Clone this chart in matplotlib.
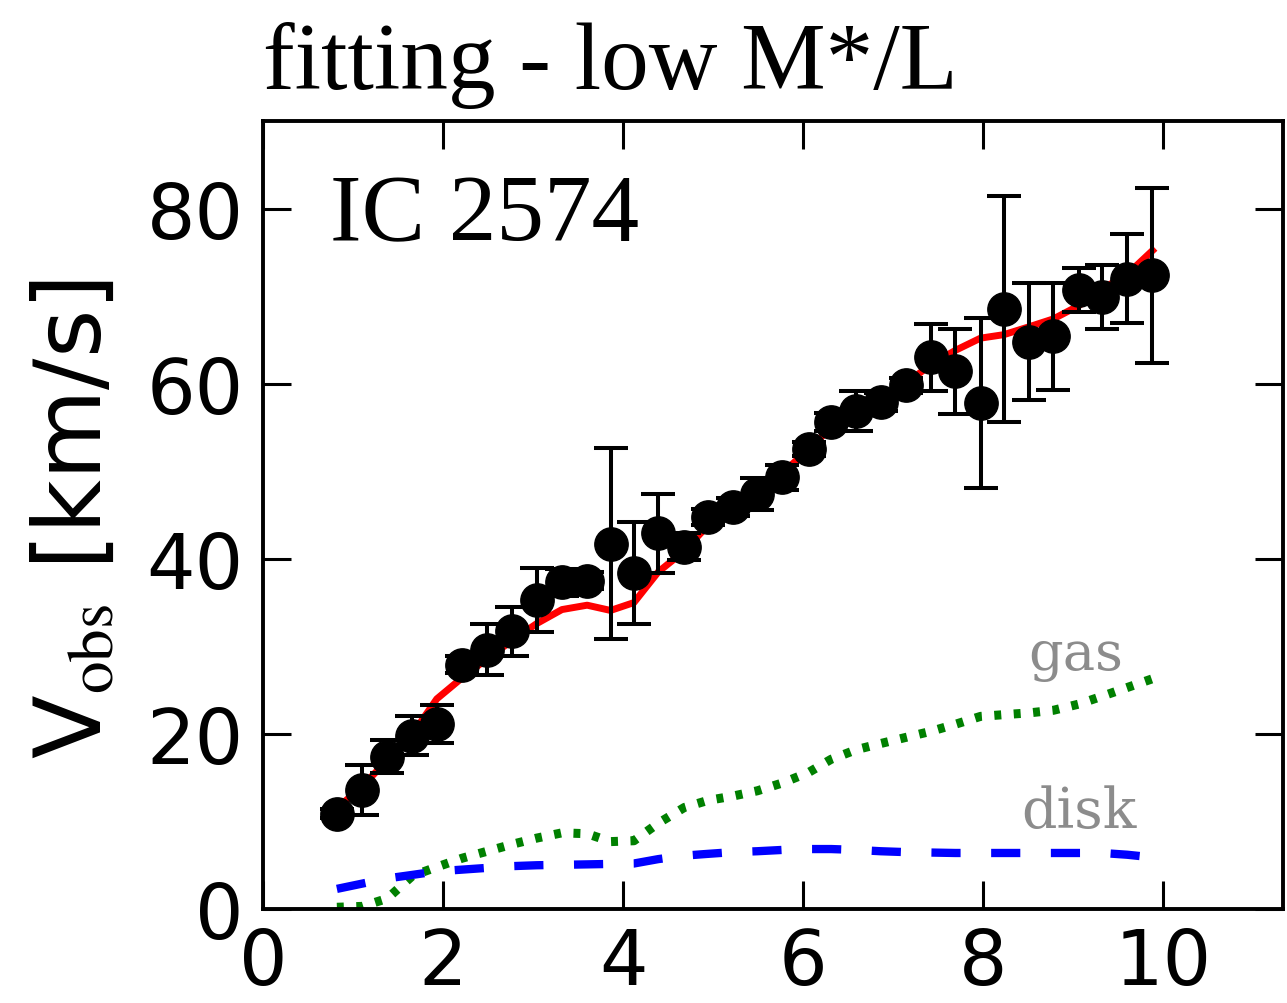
import matplotlib
matplotlib.use("Agg")
import matplotlib.pyplot as plt

# ── Rotation curve data: IC 2574 ────────────────────────
radius = [0.82, 1.10, 1.38, 1.66, 1.93, 2.21, 2.49, 2.77, 3.04, 3.32,
          3.60, 3.86, 4.12, 4.39, 4.68, 4.94, 5.22, 5.49, 5.77, 6.06,
          6.31, 6.59, 6.86, 7.14, 7.42, 7.69, 7.97, 8.23, 8.51, 8.78,
          9.06, 9.32, 9.60, 9.88]
v_obs = [10.9, 13.6, 17.4, 19.8, 21.1, 27.9, 29.6, 31.7, 35.3, 37.3,
         37.5, 41.7, 38.4, 42.9, 41.4, 44.8, 45.9, 47.4, 49.3, 52.5,
         55.6, 56.9, 57.9, 59.8, 63.0, 61.4, 57.8, 68.5, 64.8, 65.4,
         70.7, 69.9, 72.0, 72.4]
v_err = [0.5, 2.85, 1.9, 2.2, 2.15, 1.0, 2.9, 2.8, 3.65, 1.5,
         1.0, 10.9, 5.8, 4.5, 1.5, 0.9, 1.0, 1.8, 1.4, 0.8,
         1.0, 2.25, 1.0, 0.9, 3.85, 4.9, 9.7, 12.9, 6.7, 6.15,
         2.5, 3.65, 5.05, 10.0]
v_fit = [11.5, 14.0, 17.0, 20.0, 24.0, 26.4, 28.6, 30.7, 32.6, 34.2,
         34.7, 34.1, 35.0, 38.5, 40.9, 43.8, 45.9, 47.6, 49.8, 52.5,
         55.0, 56.6, 58.2, 60.0, 62.2, 63.8, 65.2, 65.6, 66.5, 67.4,
         68.9, 70.8, 72.5, 75.2]
v_gas = [0.2, 0.3, 1.2, 3.8, 4.8, 5.8, 6.6, 7.4, 8.1, 8.7,
         8.6, 7.7, 7.8, 9.8, 11.6, 12.4, 12.9, 13.5, 14.4, 15.6,
         17.1, 18.2, 18.9, 19.6, 20.3, 21.1, 22.0, 22.2, 22.4, 22.7,
         23.4, 24.3, 25.3, 26.3]
v_disk = [2.3, 2.9, 3.5, 3.9, 4.3, 4.5, 4.7, 4.9, 5.0, 5.05,
          5.1, 5.15, 5.2, 5.7, 6.1, 6.3, 6.5, 6.6, 6.75, 6.85,
          6.85, 6.75, 6.6, 6.5, 6.45, 6.4, 6.4, 6.4, 6.4, 6.4,
          6.4, 6.4, 6.2, 5.9]

x_ticks = [0, 2, 4, 6, 8, 10]
y_ticks = [0, 20, 40, 60, 80]

plt.rcParams["mathtext.fontset"] = "stix"
plt.rcParams["lines.scale_dashes"] = False

fig = plt.figure(figsize=(12.87, 10.04), dpi=100)
ax = fig.add_axes([0.2044, 0.0936, 0.7925, 0.7849])

# model components
ax.plot(radius, v_gas, color="#008000", lw=6.5, linestyle=(0, (5, 9)),
        dash_capstyle="butt", zorder=2)
ax.plot(radius, v_disk, color="#0000ff", lw=6, linestyle=(0, (21, 22)),
        dash_capstyle="butt", zorder=2)
ax.plot(radius, v_fit, color="#ff0000", lw=5, zorder=3)

# observed rotation curve
ax.errorbar(radius, v_obs, yerr=v_err, fmt="o", color="black", ms=24,
            elinewidth=2.9, capsize=12, capthick=2.9, zorder=4)

ax.text(9.03, 27.4, "gas", color="#8c8c8c", family="DejaVu Serif",
        fontsize=39, ha="center", va="baseline")
ax.text(9.06, 9.4, "disk", color="#8c8c8c", family="DejaVu Serif",
        fontsize=40, ha="center", va="baseline")
ax.text(0.066, 0.848, "IC 2574", transform=ax.transAxes,
        family="Liberation Serif", fontsize=68.5, va="baseline")

ax.set_xlim(0, 11.33)
ax.set_ylim(0, 90)
ax.set_xticks(x_ticks)
ax.set_yticks(y_ticks)
ax.tick_params(direction="in", length=20, width=2.2, labelsize=55,
               top=True, right=True)
ax.tick_params(axis="x", pad=12)
ax.tick_params(axis="y", pad=14)
for sp in ax.spines.values():
    sp.set_linewidth(2.8)

ax.set_ylabel(r"V$_{\rm obs}$ [km/s]", fontsize=67)
ax.yaxis.set_label_coords(-0.140, 0.496)
ax.set_title("fitting - low M*/L", loc="left", family="Liberation Serif",
             fontsize=68.5, pad=24)

fig.savefig("out.png", dpi=100)
